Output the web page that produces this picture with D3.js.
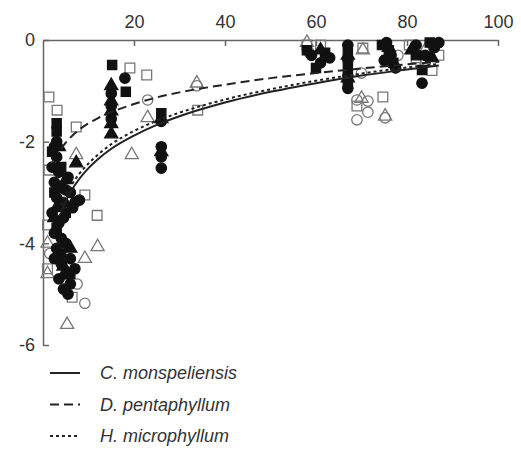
<!DOCTYPE html>
<html lang="en">
<head>
  <meta charset="utf-8">
  <title>Scatter with log fits</title>
  <script src="https://d3js.org/d3.v7.min.js"></script>
  <style>
    body { margin: 0; background: #fff; }
    .axis text { font-family: "Liberation Sans", Arial, sans-serif; font-size: 18px; fill: #333; }
    .axis path, .axis line { stroke: #666; stroke-width: 1.5; }
    .legend text { font-family: "Liberation Sans", Arial, sans-serif; font-size: 18px; font-style: italic; fill: #333; }
  </style>
</head>
<body>
  <div id="chart"></div>
  <script>
    var w = 521;
    var h = 465;

    var xTicks = [20, 40, 60, 80, 100];
    var yTicks = [0, -2, -4, -6];

    // filled markers
    var filledCircles = [
      [3, -2.0], [2.5, -2.1], [3, -2.3], [2, -2.5], [3.5, -2.6], [2.5, -2.8], [4, -2.9], [5, -2.95],
      [6, -3.0], [3, -3.1], [4.5, -3.2], [6.5, -3.3], [7, -3.2], [8, -3.15], [2, -3.4], [3.5, -3.6],
      [2.5, -3.8], [4, -3.9], [3, -4.1], [5, -4.0], [2.5, -4.3], [4, -4.4], [6, -4.3], [7, -4.5],
      [5, -4.6], [3.5, -4.7], [6, -4.8], [4.5, -4.9], [5.5, -5.0], [5.5, -2.7], [4.5, -3.5],
      [18, -0.75], [15, -1.05], [15, -1.3], [15, -1.55], [26, -1.6], [26, -2.1], [26, -2.3], [26, -2.52],
      [59, -0.3], [61, -0.45], [63, -0.35], [67, -0.1], [67, -0.4], [67, -0.7], [67, -0.95],
      [75.5, -0.05], [76.5, -0.3], [77.5, -0.55], [75, -0.4], [82, -0.1], [84, -0.3], [86, -0.15],
      [83.3, -0.85], [87, -0.05]
    ];
    var filledSquares = [
      [3, -1.64], [3, -1.8], [2, -2.2], [4, -2.5], [2.5, -3.0], [5, -3.4], [3, -3.7], [4, -4.2], [6, -4.6],
      [15.2, -0.49], [18.2, -1.02], [26, -1.44], [58, -0.2], [60, -0.55], [62, -0.25], [67, -0.25],
      [67, -0.55], [67, -0.85], [74.5, -0.1], [76, -0.2], [77, -0.45], [82, -0.3], [83.3, -0.59], [85, -0.05]
    ];
    var filledTriangles = [
      [7.3, -2.42], [3.5, -2.1], [5, -2.75], [2.5, -3.5], [4.5, -4.45], [6, -4.1], [3, -3.3],
      [15, -0.9], [15, -1.2], [15, -1.4], [15, -1.65], [15, -1.85], [26, -1.55], [26, -2.2],
      [61, -0.2], [67, -0.3], [67, -0.75], [76, -0.15], [81, -0.2], [85.5, -0.35]
    ];
    // open markers
    var openSquares = [
      [1.3, -1.12], [3.1, -1.38], [7.3, -1.71], [1.3, -2.56], [9.2, -3.05], [11.9, -3.45], [1, -3.64],
      [1, -4.5], [6.4, -5.06], [19.1, -0.55], [22.8, -0.69], [34, -1.38], [58, -0.1], [70.3, -0.16],
      [74.7, -1.12], [69, -1.3], [80.5, -0.1], [82, -0.35], [85.5, -0.6], [87, -0.3], [75.5, -0.4], [61, -0.1]
    ];
    var openCircles = [
      [9.2, -5.18], [7.5, -4.8], [23, -1.18], [33.8, -0.9], [70, -0.65], [69, -1.18], [71.4, -1.2],
      [69, -1.57], [71.4, -1.42], [75.2, -1.53], [58.5, -0.25], [84, -0.45], [78, -0.3], [1.5, -4.2]
    ];
    var openTriangles = [
      [7.3, -2.26], [12, -4.07], [9.2, -4.3], [5.3, -5.6], [1, -4.0], [1, -4.6], [23, -1.53],
      [19.5, -2.26], [33.8, -0.85], [70.3, -0.2], [75.2, -1.5], [70, -1.15], [84, -0.2], [58, -0.05]
    ];

    // fitted curves
    var curveX = [4, 5, 6, 8, 10, 12, 15, 20, 25, 30, 40, 50, 60, 70, 80, 87];
    var monspeliensis = [-3.38, -3.17, -3.00, -2.73, -2.52, -2.35, -2.14, -1.88, -1.67, -1.50, -1.23, -1.02, -0.85, -0.70, -0.58, -0.50];
    var pentaphyllum = [-2.14, -2.02, -1.92, -1.76, -1.64, -1.54, -1.42, -1.26, -1.13, -1.03, -0.88, -0.75, -0.65, -0.56, -0.48, -0.43];
    var microphyllum = [-3.25, -3.05, -2.89, -2.63, -2.43, -2.26, -2.05, -1.79, -1.59, -1.43, -1.17, -0.97, -0.80, -0.66, -0.54, -0.47];

    var species = ['C. monspeliensis', 'D. pentaphyllum', 'H. microphyllum'];
    var dashes = ['none', '9,5', '3,3'];

    var x = d3.scaleLinear().domain([0, 100]).range([43, 498]);
    var y = d3.scaleLinear().domain([-6, 0]).range([345, 40]);

    var svg = d3.select('#chart').append('svg')
      .attr('width', w)
      .attr('height', h);

    // axes
    svg.append('g')
      .attr('class', 'axis')
      .attr('transform', 'translate(0,' + y(0) + ')')
      .call(d3.axisTop(x).tickValues(xTicks).tickSize(-6).tickSizeOuter(0).tickPadding(12));

    svg.append('g')
      .attr('class', 'axis')
      .attr('transform', 'translate(' + x(0) + ',0)')
      .call(d3.axisLeft(y).tickValues(yTicks).tickSize(-6).tickSizeOuter(0).tickPadding(8)
        .tickFormat(function (d) { return d === 0 ? '0' : d; }));

    svg.selectAll('.axis .domain').attr('stroke', '#666');

    // points
    function drawSymbols(data, type, size, filled) {
      svg.append('g').selectAll('path')
        .data(data)
        .enter().append('path')
        .attr('transform', function (d) { return 'translate(' + x(d[0]) + ',' + y(d[1]) + ')'; })
        .attr('d', d3.symbol().type(type).size(size))
        .attr('fill', filled ? '#111' : 'none')
        .attr('stroke', filled ? '#111' : '#777')
        .attr('stroke-width', 1.3);
    }

    drawSymbols(openSquares, d3.symbolSquare, 95, false);
    drawSymbols(openCircles, d3.symbolCircle, 85, false);
    drawSymbols(openTriangles, d3.symbolTriangle, 75, false);
    drawSymbols(filledSquares, d3.symbolSquare, 85, true);
    drawSymbols(filledCircles, d3.symbolCircle, 85, true);
    drawSymbols(filledTriangles, d3.symbolTriangle, 75, true);

    // fitted lines
    var line = d3.line()
      .x(function (d) { return x(d[0]); })
      .y(function (d) { return y(d[1]); })
      .curve(d3.curveMonotoneX);

    [monspeliensis, pentaphyllum, microphyllum].forEach(function (vals, i) {
      svg.append('path')
        .datum(curveX.map(function (cx, j) { return [cx, vals[j]]; }))
        .attr('d', line)
        .attr('fill', 'none')
        .attr('stroke', '#222')
        .attr('stroke-width', 2)
        .attr('stroke-dasharray', dashes[i]);
    });

    // legend
    var legend = svg.append('g').attr('class', 'legend');
    species.forEach(function (s, i) {
      var ly = 373 + i * 31.5;
      legend.append('line')
        .attr('x1', 50).attr('x2', 80)
        .attr('y1', ly).attr('y2', ly)
        .attr('stroke', '#222')
        .attr('stroke-width', 2)
        .attr('stroke-dasharray', dashes[i]);
      legend.append('text')
        .attr('x', 100)
        .attr('y', ly)
        .attr('dy', '0.36em')
        .text(s);
    });
  </script>
</body>
</html>
